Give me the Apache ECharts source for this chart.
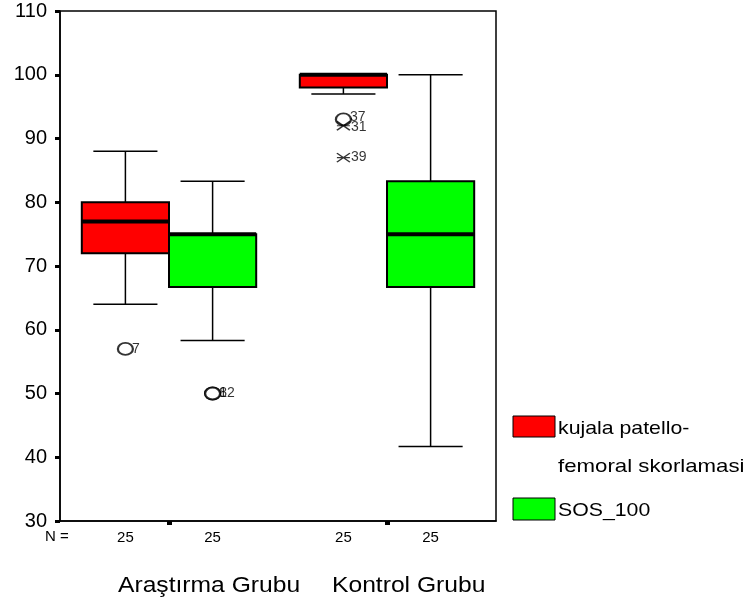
<!DOCTYPE html>
<html><head><meta charset="utf-8">
<script src="https://cdn.jsdelivr.net/npm/echarts@6/dist/echarts.min.js"></script>
<style>html,body{margin:0;padding:0;background:#fff}#c{width:747px;height:604px}</style>
</head><body><div id="c"></div>
<script>
const groups = ['Araştırma Grubu', 'Kontrol Grubu'];
const seriesNames = ['kujala patello-\nfemoral skorlamasi', 'SOS_100'];
// [low whisker, Q1, median, Q3, high whisker] per group
const kujalaBox = [[64, 72, 77, 80, 88], [97, 98, 100, 100, 100]];
const sosBox = [[58.3, 66.7, 75, 75, 83.3], [41.7, 66.7, 75, 83.3, 100]];
// outliers: [groupIndex, value, case label, kind]
const kujalaOut = [[0, 57, '7', 'o'], [1, 93, '37', 'o'], [1, 92, '31', 'x'], [1, 87, '39', 'x']];
const sosOut = [[0, 50, '8', 'o'], [0, 50, '12', 'o']];
const nCounts = [25, 25, 25, 25];
const yTicks = [30, 40, 50, 60, 70, 80, 90, 100, 110];
const colors = ['#ff0000', '#00ff00'];

const FONT = 'Liberation Sans, Arial, sans-serif';
function xPos(g, s) { return g * 5 + 1.5 + s * 2; }
function boxData(arr, s) { return arr.map((b, g) => [xPos(g, s)].concat(b)); }

function renderBox(params, api) {
  const x = api.value(0);
  const vals = [1, 2, 3, 4, 5].map(i => api.value(i));
  const w = api.size([2, 0])[0];
  const cw = api.size([1.47, 0])[0];
  const c = api.coord([x, 0])[0];
  const y = vals.map(v => api.coord([x, v])[1]);
  const ls = { stroke: '#000', lineWidth: 1.5 };
  return { type: 'group', children: [
    { type: 'line', shape: { x1: c, y1: y[0], x2: c, y2: y[1] }, style: ls },
    { type: 'line', shape: { x1: c, y1: y[3], x2: c, y2: y[4] }, style: ls },
    { type: 'line', shape: { x1: c - cw / 2, y1: y[0], x2: c + cw / 2, y2: y[0] }, style: ls },
    { type: 'line', shape: { x1: c - cw / 2, y1: y[4], x2: c + cw / 2, y2: y[4] }, style: ls },
    { type: 'rect', shape: { x: c - w / 2, y: y[3], width: w, height: y[1] - y[3] },
      style: { fill: api.visual('color'), stroke: '#000', lineWidth: 2 } },
    { type: 'line', shape: { x1: c - w / 2, y1: y[2], x2: c + w / 2, y2: y[2] }, style: { stroke: '#000', lineWidth: 4 } }
  ] };
}

function outSeries(arr, s) {
  return {
    type: 'scatter', z: 5,
    data: arr.map(o => ({
      value: [xPos(o[0], s), o[1]],
      symbol: o[3] === 'o' ? 'circle' : 'path://M0,0L12,8M0,8L12,0M0,4L12,4',
      symbolSize: o[3] === 'o' ? [15, 12] : [13, 9],
      itemStyle: o[3] === 'o' ? { color: '#fff', borderColor: '#000', borderWidth: 2 }
        : { color: 'none', borderColor: '#000', borderWidth: 1.4 },
      label: { show: true, formatter: o[2], position: 'right', distance: -2,
        offset: o[2] === '37' ? [0, -2] : (o[2] === '31' ? [0, 1] : [0, 0]),
        fontSize: 14, color: '#000', fontFamily: FONT }
    }))
  };
}

const chart = echarts.init(document.getElementById('c'));
chart.setOption({
  animation: false,
  backgroundColor: '#fff',
  grid: { left: 60, top: 11, width: 436, height: 510, show: true, borderColor: '#000', borderWidth: 1.5, backgroundColor: 'transparent' },
  xAxis: {
    type: 'value', min: 0, max: 10,
    axisLine: { show: true, lineStyle: { color: '#000', width: 1.5 } },
    axisTick: { show: true, customValues: [2.5, 7.5], length: 4, lineStyle: { color: '#000', width: 5 } },
    axisLabel: { customValues: [1.5, 3.5, 6.5, 8.5], margin: 9, fontSize: 15, color: '#000', fontFamily: FONT,
      formatter: (v) => String(nCounts[[1.5, 3.5, 6.5, 8.5].indexOf(v)]) },
    splitLine: { show: false }
  },
  yAxis: {
    type: 'value', min: 30, max: 110, interval: 10,
    axisLine: { show: true, lineStyle: { color: '#000', width: 1.5 } },
    axisTick: { show: true, length: 5, lineStyle: { color: '#000', width: 3 } },
    axisLabel: { margin: 13, fontSize: 20, color: '#000', fontFamily: FONT,
      formatter: (v) => yTicks.includes(v) ? String(v) : '' },
    splitLine: { show: false }
  },
  series: [
    { type: 'custom', name: seriesNames[0], renderItem: renderBox, data: boxData(kujalaBox, 0), itemStyle: { color: colors[0] }, encode: { x: 0, y: [1, 2, 3, 4, 5] }, z: 2 },
    { type: 'custom', name: seriesNames[1], renderItem: renderBox, data: boxData(sosBox, 1), itemStyle: { color: colors[1] }, encode: { x: 0, y: [1, 2, 3, 4, 5] }, z: 2 },
    outSeries(kujalaOut, 0),
    outSeries(sosOut, 1)
  ],
  graphic: [
    { type: 'text', x: 45, y: 537, style: { text: 'N =', fontSize: 15, fill: '#000', fontFamily: FONT, textVerticalAlign: 'middle' } },
    { type: 'text', x: 118, y: 586, scaleX: 1.12, style: { text: groups[0], fontSize: 22, fill: '#000', fontFamily: FONT, textVerticalAlign: 'middle' } },
    { type: 'text', x: 332, y: 586, scaleX: 1.12, style: { text: groups[1], fontSize: 22, fill: '#000', fontFamily: FONT, textVerticalAlign: 'middle' } },
    { type: 'rect', x: 513, y: 416, shape: { width: 42, height: 21 }, style: { fill: colors[0], stroke: '#000', lineWidth: 1 } },
    { type: 'text', x: 558, y: 429, scaleX: 1.12, style: { text: 'kujala patello-', fontSize: 19, fill: '#000', fontFamily: FONT, textVerticalAlign: 'middle' } },
    { type: 'text', x: 558, y: 467, scaleX: 1.17, style: { text: 'femoral skorlamasi', fontSize: 19, fill: '#000', fontFamily: FONT, textVerticalAlign: 'middle' } },
    { type: 'rect', x: 513, y: 498, shape: { width: 42, height: 22 }, style: { fill: colors[1], stroke: '#000', lineWidth: 1 } },
    { type: 'text', x: 558, y: 511, scaleX: 1.12, style: { text: seriesNames[1], fontSize: 19, fill: '#000', fontFamily: FONT, textVerticalAlign: 'middle' } }
  ]
});
</script></body></html>
